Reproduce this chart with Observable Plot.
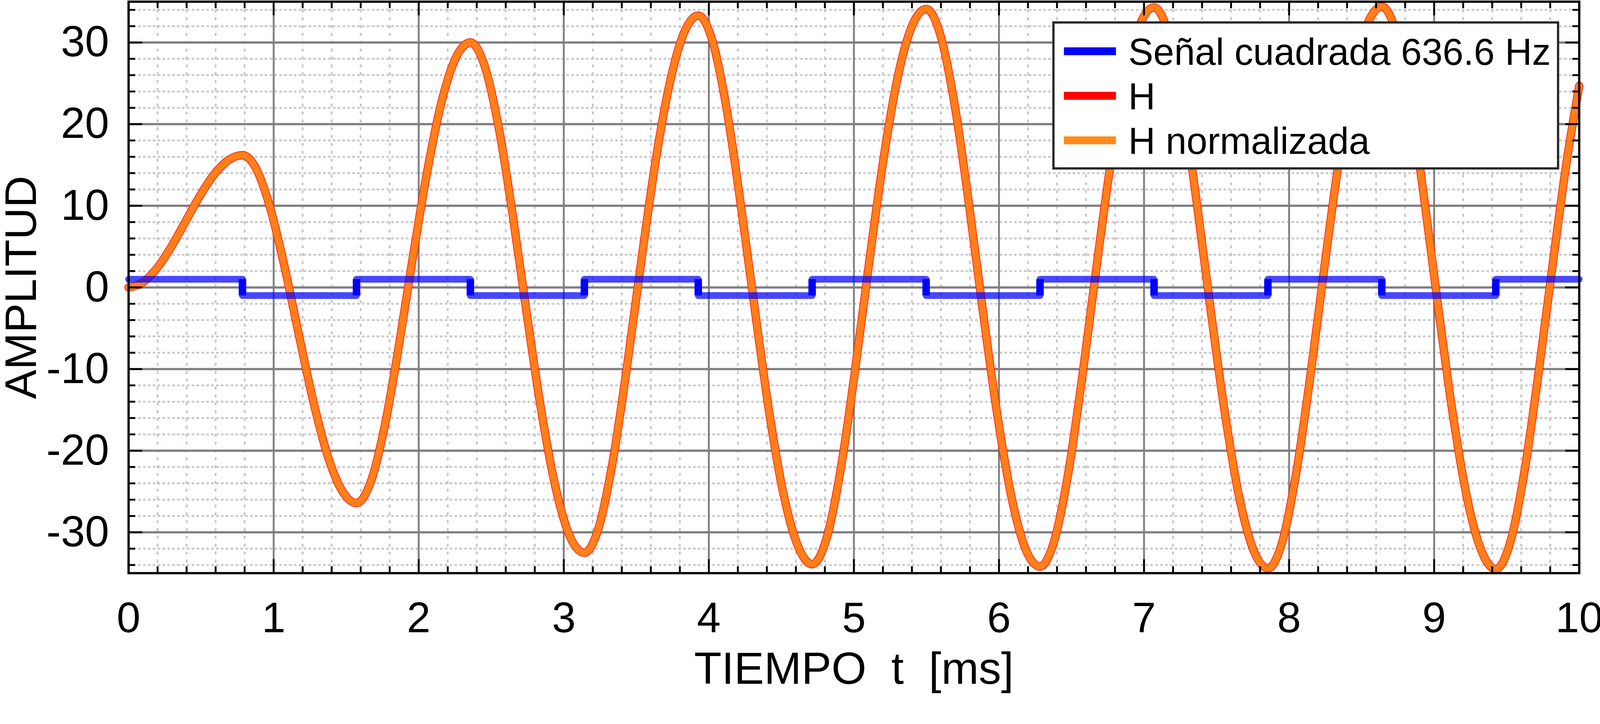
<!DOCTYPE html>
<html>
<head>
<meta charset="utf-8">
<script src="https://cdn.jsdelivr.net/npm/d3@7"></script>
<script src="https://cdn.jsdelivr.net/npm/@observablehq/plot@0.6"></script>
<style>
  html, body { margin: 0; padding: 0; background: #fff; }
  #chart svg { display: block; }
</style>
</head>
<body>
<div id="chart"></div>
<script>
// ---- data ----
const tiempo = [
  0, 0.098, 0.196, 0.295, 0.393, 0.491, 0.589, 0.687, 0.785,
  0.884, 0.982, 1.080, 1.178, 1.276, 1.374, 1.473, 1.571,
  1.669, 1.767, 1.865, 1.963, 2.062, 2.160, 2.258, 2.356,
  2.454, 2.553, 2.651, 2.749, 2.847, 2.945, 3.043, 3.142,
  3.240, 3.338, 3.436, 3.534, 3.632, 3.731, 3.829, 3.927,
  4.025, 4.123, 4.221, 4.320, 4.418, 4.516, 4.614, 4.712,
  4.811, 4.909, 5.007, 5.105, 5.203, 5.301, 5.400, 5.498,
  5.596, 5.694, 5.792, 5.890, 5.989, 6.087, 6.185, 6.283,
  6.381, 6.480, 6.578, 6.676, 6.774, 6.872, 6.970, 7.069,
  7.167, 7.265, 7.363, 7.461, 7.560, 7.658, 7.756, 7.854,
  7.952, 8.050, 8.149, 8.247, 8.345, 8.443, 8.541, 8.639,
  8.738, 8.836, 8.934, 9.032, 9.130, 9.228, 9.327, 9.425,
  9.523, 9.621, 9.719, 9.818, 9.916, 10.0
];
const H = [
  0, 0.62, 2.37, 5.0, 8.1, 11.2, 13.83, 15.58, 16.2,
  14.39, 9.37, 2.12, -6.16, -14.16, -20.71, -24.95, -26.4,
  -23.83, -16.85, -6.96, 4.09, 14.53, 22.92, 28.22, 30.0,
  27.16, 19.44, 8.5, -3.74, -15.32, -24.63, -30.53, -32.5,
  -29.46, -21.26, -9.68, 3.2, 15.36, 25.08, 31.21, 33.3,
  30.2, 21.84, 10.03, -3.11, -15.5, -25.42, -31.67, -33.9,
  -30.76, -22.27, -10.29, 3.04, 15.61, 25.67, 32.01, 34.1,
  30.94, 22.42, 10.38, -3.02, -15.65, -25.75, -32.13, -34.2,
  -31.04, -22.49, -10.42, 3.0, 15.67, 25.8, 32.18, 34.3,
  31.13, 22.56, 10.47, -2.99, -15.69, -25.84, -32.24, -34.4,
  -31.22, -22.63, -10.51, 2.98, 15.7, 25.88, 32.3, 34.4,
  31.22, 22.63, 10.51, -2.98, -15.7, -25.88, -32.3, -34.5,
  -31.31, -22.71, -10.56, 2.97, 15.72, 24.7
];
// H normalizada coincides with H at this resolution
const Hnormalizada = [
  0, 0.62, 2.37, 5.0, 8.1, 11.2, 13.83, 15.58, 16.2,
  14.39, 9.37, 2.12, -6.16, -14.16, -20.71, -24.95, -26.4,
  -23.83, -16.85, -6.96, 4.09, 14.53, 22.92, 28.22, 30.0,
  27.16, 19.44, 8.5, -3.74, -15.32, -24.63, -30.53, -32.5,
  -29.46, -21.26, -9.68, 3.2, 15.36, 25.08, 31.21, 33.3,
  30.2, 21.84, 10.03, -3.11, -15.5, -25.42, -31.67, -33.9,
  -30.76, -22.27, -10.29, 3.04, 15.61, 25.67, 32.01, 34.1,
  30.94, 22.42, 10.38, -3.02, -15.65, -25.75, -32.13, -34.2,
  -31.04, -22.49, -10.42, 3.0, 15.67, 25.8, 32.18, 34.3,
  31.13, 22.56, 10.47, -2.99, -15.69, -25.84, -32.24, -34.4,
  -31.22, -22.63, -10.51, 2.98, 15.7, 25.88, 32.3, 34.4,
  31.22, 22.63, 10.51, -2.98, -15.7, -25.88, -32.3, -34.5,
  -31.31, -22.71, -10.56, 2.97, 15.72, 24.7
];
const cuadradaT = [0, 0.785, 1.571, 2.356, 3.142, 3.927, 4.712, 5.498, 6.283, 7.069, 7.854, 8.639, 9.425, 10];
const cuadradaV = [1, -1, 1, -1, 1, -1, 1, -1, 1, -1, 1, -1, 1, 1];
const xTicks = [0, 1, 2, 3, 4, 5, 6, 7, 8, 9, 10];
const yTicks = [-30, -20, -10, 0, 10, 20, 30];
const seriesNames = ["Señal cuadrada 636.6 Hz", "H", "H normalizada"];
const seriesColors = ["#0000ff", "#ff0000", "#ff8a1c"];
const xTitle = "TIEMPO\u00a0\u00a0t\u00a0\u00a0[ms]";
const yTitle = "AMPLITUD";

// ---- derived tables ----
const hData = tiempo.map((t, i) => ({t, h: H[i], hn: Hnormalizada[i]}));
const sqData = cuadradaT.map((t, i) => ({t, v: cuadradaV[i]}));
const switches = cuadradaT.slice(1, -1);
const xMinor = d3.range(0, 51).filter(i => i % 5 !== 0).map(i => i / 5);
const yMinor = d3.range(-34, 35, 2).filter(v => v % 10 !== 0);

const W = 4274, HGT = 1854;
const mL = 343, mR = 56, mT = 4, mB = 323;
const innerW = W - mL - mR, innerH = HGT - mT - mB;
const font = "'Liberation Sans', Arial, Helvetica, sans-serif";

const chart = Plot.plot({
  width: W, height: HGT,
  marginLeft: mL, marginRight: mR, marginTop: mT, marginBottom: mB,
  x: {domain: [0, 10]},
  y: {domain: [-35, 35]},
  style: {background: "white", fontFamily: font, fontSize: "114px", color: "black", overflow: "visible"},
  marks: [
    Plot.ruleX(xMinor, {stroke: "#c8c8c8", strokeWidth: 5, strokeDasharray: "8,13"}),
    Plot.ruleY(yMinor, {stroke: "#c8c8c8", strokeWidth: 5, strokeDasharray: "7,6"}),
    Plot.ruleX(xTicks, {stroke: "#808080", strokeWidth: 5}),
    Plot.ruleY(yTicks, {stroke: "#808080", strokeWidth: 6}),
    Plot.line(hData, {x: "t", y: "h", stroke: seriesColors[1], strokeWidth: 22, curve: "monotone-x"}),
    Plot.line(hData, {x: "t", y: "hn", stroke: seriesColors[2], strokeOpacity: 0.92, strokeWidth: 19, curve: "monotone-x"}),
    Plot.line(sqData, {x: "t", y: "v", curve: "step-after", stroke: seriesColors[0], strokeOpacity: 0.72, strokeWidth: 18}),
    Plot.ruleX(switches, {y1: -1, y2: 1, stroke: seriesColors[0], strokeWidth: 20}),
    // inward ticks on all four sides
    Plot.tickX(xTicks, {x: d => d, insetTop: innerH - 37, stroke: "black", strokeWidth: 5}),
    Plot.tickX(xTicks, {x: d => d, insetBottom: innerH - 37, stroke: "black", strokeWidth: 5}),
    Plot.tickX(xMinor, {x: d => d, insetTop: innerH - 18, stroke: "black", strokeWidth: 5}),
    Plot.tickX(xMinor, {x: d => d, insetBottom: innerH - 18, stroke: "black", strokeWidth: 5}),
    Plot.tickY(yTicks, {y: d => d, insetRight: innerW - 37, stroke: "black", strokeWidth: 5}),
    Plot.tickY(yTicks, {y: d => d, insetLeft: innerW - 37, stroke: "black", strokeWidth: 5}),
    Plot.tickY(yMinor, {y: d => d, insetRight: innerW - 18, stroke: "black", strokeWidth: 5}),
    Plot.tickY(yMinor, {y: d => d, insetLeft: innerW - 18, stroke: "black", strokeWidth: 5}),
    Plot.frame({stroke: "black", strokeWidth: 6}),
    Plot.axisX({ticks: xTicks, tickSize: 0, tickPadding: 77, fontSize: 114, label: null, tickFormat: d => String(d)}),
    Plot.axisY({ticks: yTicks, tickSize: 0, tickPadding: 52, fontSize: 116, label: null, tickFormat: d => String(d)}),
    Plot.text([xTitle], {text: d => d, frameAnchor: "bottom", dy: 257, fontSize: 120, lineAnchor: "middle", textAnchor: "middle"}),
    Plot.text([yTitle], {text: d => d, frameAnchor: "left", rotate: -90, dx: 58 - mL, fontSize: 118, lineAnchor: "middle", textAnchor: "middle"})
  ]
});
document.getElementById("chart").appendChild(chart);

// legend inside the plot (top right)
const svg = d3.select(chart);
const lg = svg.append("g").attr("font-family", font).attr("font-size", 100).attr("text-anchor", "start");
lg.append("rect").attr("x", 2814).attr("y", 60).attr("width", 1348).attr("height", 390)
  .attr("fill", "white").attr("stroke", "#262626").attr("stroke-width", 6);
const rowY = [137, 256, 375];
seriesNames.forEach((name, i) => {
  lg.append("line").attr("x1", 2842).attr("x2", 2981).attr("y1", rowY[i]).attr("y2", rowY[i])
    .attr("stroke", seriesColors[i]).attr("stroke-width", 21);
  lg.append("text").attr("x", 3014).attr("y", rowY[i] + 36).attr("fill", "black")
    .attr("text-anchor", "start").text(name);
});
</script>
</body>
</html>
